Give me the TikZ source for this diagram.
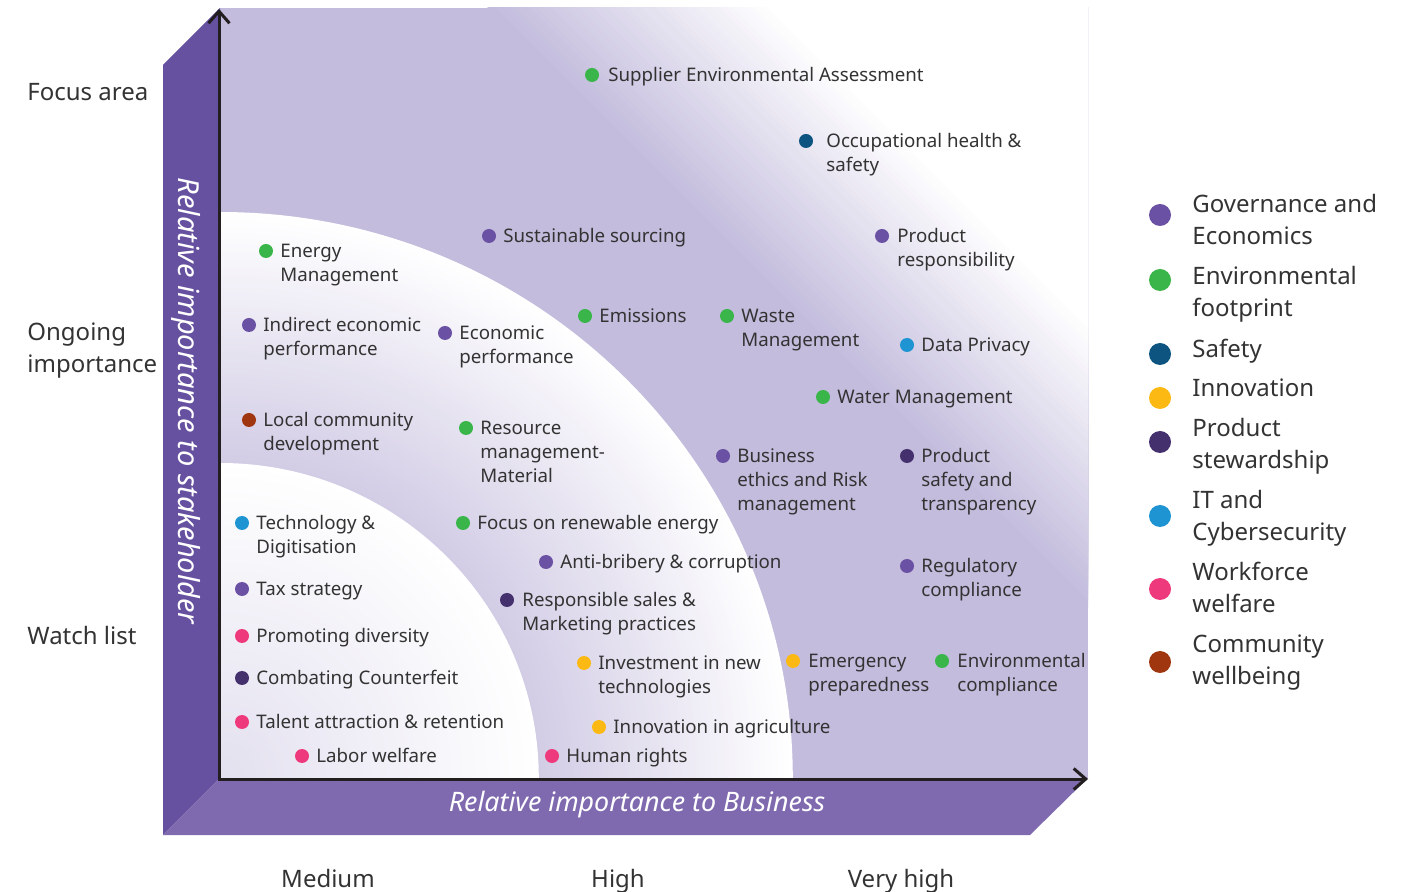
\documentclass[tikz,border=0pt]{standalone}
\usepackage{fontspec}
\setmainfont{Noto Sans}
\usetikzlibrary{arrows.meta}
\definecolor{lav}{HTML}{C3BCDD}
\definecolor{panelL}{HTML}{6650A0}
\definecolor{panelB}{HTML}{7F69AF}
\definecolor{bandC}{HTML}{D2CCE5}
\definecolor{bandD}{HTML}{E3E0EF}
\definecolor{cgov}{HTML}{6A51A3}
\definecolor{cenv}{HTML}{3AB54A}
\definecolor{csaf}{HTML}{0D5480}
\definecolor{cinn}{HTML}{FDB913}
\definecolor{cstw}{HTML}{45306E}
\definecolor{cit}{HTML}{1E94D3}
\definecolor{cwf}{HTML}{EE3A7C}
\definecolor{ccom}{HTML}{A0360F}
\definecolor{txt}{HTML}{333333}
\definecolor{axcol}{HTML}{231F20}
\newcommand\fsLbl{\fontsize{9.35}{12}\selectfont}
\newcommand\fsBig{\fontsize{12}{16}\selectfont}
\newcommand\fsAxX{\fontsize{13.4}{16}\selectfont\itshape}
\newcommand\fsAxY{\fontsize{14.5}{17}\selectfont\itshape}
\newcommand\ml[1]{\begin{tabular}[t]{@{}l@{}}#1\end{tabular}}
\newcommand\mitem[6]{%
  \node[pdot,fill=#4] (d#1) at (#2,#3) {};
  \node[lbl] (t#1) at (#5,#3+6.5) {\ml{#6}};}
\newcommand\litem[5]{%
  \node[ldot,fill=#2] (ld#1) at (1160,#3) {};
  \node[leg] (lt#1) at (1192,#4) {\ml{#5}};}
\begin{document}
\begin{tikzpicture}[x=0.5pt,y=-0.5pt,
  pdot/.style={circle,inner sep=0pt,minimum size=7pt,draw=none},
  ldot/.style={circle,inner sep=0pt,minimum size=11pt,draw=none},
  lbl/.style={anchor=base west,inner sep=0pt,font=\fsLbl,text=txt},
  leg/.style={anchor=base west,inner sep=0pt,font=\fsBig,text=txt},
  side/.style={anchor=base west,inner sep=0pt,font=\fsBig,text=txt},
  bot/.style={anchor=base,inner sep=0pt,font=\fsBig,text=txt},
  axlbl/.style={inner sep=0pt,text=white},
  axisline/.style={line width=1.5pt,draw=axcol}
]
\useasboundingbox (0,0) rectangle (1414,892);
% plot background with gradients
\begin{scope}
  \clip (220,8) rectangle (1088,778);
  \fill[lav] (220,8) rectangle (1088,778);
  \foreach \c in {480,487,...,760} {
    \pgfmathsetmacro\tt{(\c-480)/280*100}
    \fill[white!\tt!lav] (\c-100,-100) -- (\c+1000,1000) -- (1300,1000) -- (1300,-100) -- cycle;
  }
  \begin{scope}[shift={(220,778)},xscale=1.012]
    \foreach \r in {566,563,...,317} {
      \pgfmathsetmacro\tt{(\r-316)/250*100}
      \fill[white!\tt!bandC] (0,0) circle (\r);
    }
    \foreach \r in {315,312,...,3} {
      \pgfmathsetmacro\tt{\r/315*100}
      \fill[white!\tt!bandD] (0,0) circle (\r);
    }
  \end{scope}
\end{scope}
% 3D side panels
\fill[panelL] (163,65) -- (220,8) -- (220,778) -- (163,835) -- cycle;
\fill[panelB] (163,835) -- (220,778) -- (1088,778) -- (1030,835) -- cycle;
% axes
\coordinate (ytop) at (219,9);
\coordinate (orig) at (219,779);
\coordinate (xend) at (1088,779);
\draw[axisline,{Straight Barb[length=6pt,width=10.5pt]}-{Straight Barb[length=6pt,width=10.5pt]}] (ytop) -- (orig) -- (xend);
% axis labels
\node[axlbl,font=\fsAxY,rotate=-90] (ylab) at (186,401) {Relative importance to stakeholder};
\node[axlbl,font=\fsAxX] (xlab) at (637,805) {Relative importance to Business};
% side labels
\node[side] (s1) at (27,101) {Focus area};
\node[side] (s2) at (27,341) {\ml{Ongoing\\importance}};
\node[side] (s3) at (27,645) {Watch list};
\node[bot] (b1) at (328,887) {Medium};
\node[bot] (b2) at (618,887) {High};
\node[bot] (b3) at (901,887) {Very high};
% items
\mitem{1}{592}{75}{cenv}{608}{Supplier Environmental Assessment}
\mitem{2}{806}{141}{csaf}{826}{Occupational health \&\\safety}
\mitem{3}{489}{236}{cgov}{503}{Sustainable sourcing}
\mitem{4}{882}{236}{cgov}{897}{Product\\responsibility}
\mitem{5}{266}{251}{cenv}{280}{Energy\\Management}
\mitem{6}{249}{325}{cgov}{263}{Indirect economic\\performance}
\mitem{7}{445}{333}{cgov}{459}{Economic\\performance}
\mitem{8}{585}{316}{cenv}{599}{Emissions}
\mitem{9}{727}{316}{cenv}{741}{Waste\\Management}
\mitem{10}{907}{345}{cit}{921}{Data Privacy}
\mitem{11}{823}{397}{cenv}{837}{Water Management}
\mitem{12}{249}{420}{ccom}{263}{Local community\\development}
\mitem{13}{466}{428}{cenv}{480}{Resource\\management-\\Material}
\mitem{14}{723}{456}{cgov}{737}{Business\\ethics and Risk\\management}
\mitem{15}{907}{456}{cstw}{921}{Product\\safety and\\transparency}
\mitem{16}{242}{523}{cit}{256}{Technology \&\\Digitisation}
\mitem{17}{463}{523}{cenv}{477}{Focus on renewable energy}
\mitem{18}{546}{562}{cgov}{560}{Anti-bribery \& corruption}
\mitem{19}{242}{589}{cgov}{256}{Tax strategy}
\mitem{20}{507}{600}{cstw}{522}{Responsible sales \&\\Marketing practices}
\mitem{21}{907}{566}{cgov}{921}{Regulatory\\compliance}
\mitem{22}{242}{636}{cwf}{256}{Promoting diversity}
\mitem{23}{584}{663}{cinn}{598}{Investment in new\\technologies}
\mitem{24}{793}{661}{cinn}{808}{Emergency\\preparedness}
\mitem{25}{942}{661}{cenv}{957}{Environmental\\compliance}
\mitem{26}{242}{678}{cstw}{256}{Combating Counterfeit}
\mitem{27}{242}{722}{cwf}{256}{Talent attraction \& retention}
\mitem{28}{599}{727}{cinn}{613}{Innovation in agriculture}
\mitem{29}{302}{756}{cwf}{316}{Labor welfare}
\mitem{30}{552}{756}{cwf}{566}{Human rights}
% legend
\litem{1}{cgov}{215}{213}{Governance and\\Economics}
\litem{2}{cenv}{280}{285}{Environmental\\footprint}
\litem{3}{csaf}{354}{358}{Safety}
\litem{4}{cinn}{398}{397}{Innovation}
\litem{5}{cstw}{442}{437}{Product\\stewardship}
\litem{6}{cit}{516}{509}{IT and\\Cybersecurity}
\litem{7}{cwf}{589}{581}{Workforce\\welfare}
\litem{8}{ccom}{662}{653}{Community\\wellbeing}
\end{tikzpicture}
\end{document}
